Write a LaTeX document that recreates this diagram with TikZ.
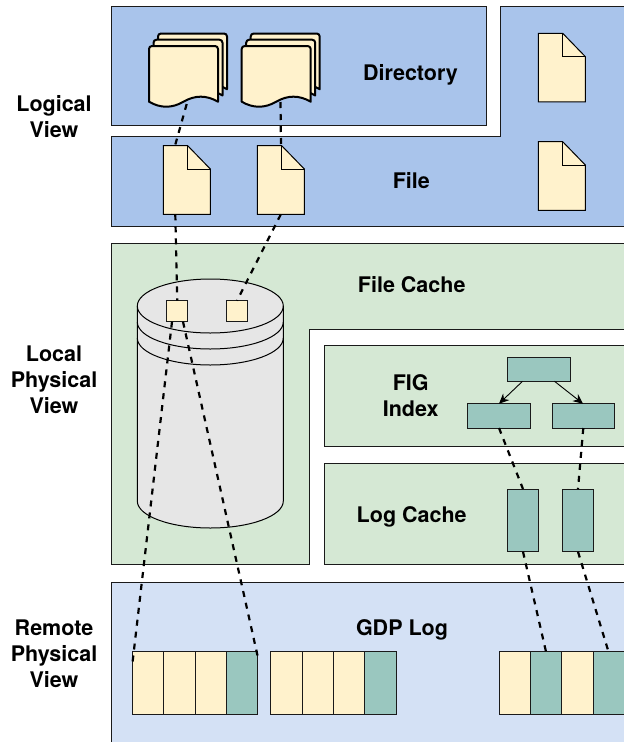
\documentclass[tikz,border=0pt]{standalone}
\usepackage{fontspec}
\setmainfont{TeX Gyre Heros}
\usetikzlibrary{arrows.meta}
\definecolor{pblue}{HTML}{A9C4EB}
\definecolor{pgreen}{HTML}{D5E8D4}
\definecolor{plight}{HTML}{D4E1F5}
\definecolor{pyellow}{HTML}{FFF2CC}
\definecolor{pteal}{HTML}{9AC7BF}
\definecolor{pgray}{HTML}{E6E6E6}
\definecolor{pline}{HTML}{1A1A1A}
\tikzset{
  x=1pt,y=-1pt,
  panel/.style={draw=pline,line width=0.9pt},
  box/.style={rectangle,draw=pline,line width=1pt,inner sep=0pt,outer sep=0pt,anchor=north west},
  cellY/.style={box,fill=pyellow,minimum width=31.4pt,minimum height=62.3pt},
  cellT/.style={box,fill=pteal,minimum width=31.4pt,minimum height=62.3pt},
  idx/.style={box,fill=pteal,minimum width=62.8pt,minimum height=24.3pt},
  seg/.style={box,fill=pteal,minimum width=31.4pt,minimum height=62.7pt},
  sq/.style={box,fill=pyellow,minimum width=21pt,minimum height=21pt},
  lbl/.style={font=\bfseries\fontsize{21.5}{26}\selectfont,align=center,inner sep=0pt},
  lblb/.style={lbl,anchor=base},
  link/.style={draw=black,line width=2.2pt,dash pattern=on 6pt off 6pt},
  tree/.style={draw=black,line width=0.9pt,-{Stealth[length=10pt,width=9pt]}},
}
\newcommand{\fileicon}[3]{% x, y, name
  \coordinate (#3) at (#1,#2);
  \draw[fill=pyellow,line width=1pt,line join=miter] (#1,#2) -- ++(24.4,0) -- ++(22.6,23.3) -- ++(0,45.3) -- ++(-47,0) -- cycle;
  \draw[line width=1pt] (#1+24.4,#2) -- ++(0,23.3) -- ++(22.6,0);
}
\newcommand{\sheet}[2]{% x, y of top left
  \draw[fill=pyellow,line width=2pt,line join=round]
    (#1,#2+55.7) .. controls (#1+11.5,#2+62.4) and (#1+23,#2+62.4) .. (#1+34.5,#2+55.7)
    .. controls (#1+46,#2+49) and (#1+57.5,#2+49) .. (#1+69,#2+55.7)
    -- (#1+69,#2+3) arc[start angle=0,end angle=90,radius=3pt] -- (#1+3,#2)
    arc[start angle=90,end angle=180,radius=3pt] -- cycle;
}
\newcommand{\stackdoc}[3]{% x, y of front sheet, name
  \sheet{#1+9}{#2-12.5}
  \sheet{#1+4.5}{#2-6.3}
  \sheet{#1}{#2}
  \coordinate (#3) at (#1,#2);
}
\begin{document}
\begin{tikzpicture}
\useasboundingbox (0,0) rectangle (624,742);
\fill[white] (0,0) rectangle (624,742);
\clip (0,0) rectangle (624,742);

% logical view panels
\draw[panel,fill=pblue] (111,6.7) rectangle (486.8,125);
\draw[panel,fill=pblue] (111,136.7) -- (500.3,136.7) -- (500.3,6.7) -- (640,6.7) -- (640,226) -- (111,226) -- cycle;

% local physical view panels
\draw[panel,fill=pgreen] (111,243) -- (640,243) -- (640,329) -- (309.7,329) -- (309.7,564) -- (111,564) -- cycle;
\draw[panel,fill=pgreen] (324.5,345) rectangle (640,446);
\draw[panel,fill=pgreen] (324.5,463) rectangle (640,564);

% remote panel
\draw[panel,fill=plight] (111,582) rectangle (640,760);

% labels
\node[lbl] (lv) at (54,116.5) {Logical\\View};
\node[lbl] (lp) at (54,379.8) {Local\\Physical\\View};
\node[lbl] (rp) at (54,654) {Remote\\Physical\\View};
\node[lblb] (dirl) at (410.5,80.3) {Directory};
\node[lblb] (filel) at (411.3,188.8) {File};
\node[lblb] (fcl) at (411.7,292.7) {File Cache};
\node[lbl] (figl) at (410.7,395.8) {FIG\\Index};
\node[lblb] (lcl) at (411.7,522.3) {Log Cache};
\node[lblb] (gdpl) at (402,635) {GDP Log};

% directory documents
\stackdoc{149}{46}{doca}
\stackdoc{241.7}{46}{docb}

% files
\fileicon{163.3}{145.7}{filea}
\fileicon{257.3}{145.7}{fileb}
\fileicon{538.3}{33.3}{filec}
\fileicon{538.3}{141.7}{filed}

% cylinder
\draw[fill=pgray,line width=1pt] (137.3,501) arc[start angle=180,end angle=360,x radius=73pt,y radius=27pt]
  -- (283.3,306) arc[start angle=0,end angle=180,x radius=73pt,y radius=27pt] -- cycle;
\draw[line width=1pt] (137.3,306) arc[start angle=180,end angle=360,x radius=73pt,y radius=27pt];
\draw[line width=1pt] (137.3,322) arc[start angle=180,end angle=360,x radius=73pt,y radius=27pt];
\draw[line width=1pt] (137.3,338) arc[start angle=180,end angle=360,x radius=73pt,y radius=27pt];
\node[sq] (sqa) at (166.7,300.7) {};
\node[sq] (sqb) at (226.2,300.7) {};

% FIG index
\node[idx] (root) at (507.3,357) {};
\node[idx] (idxa) at (467.4,403.7) {};
\node[idx] (idxb) at (552,403.7) {};
\coordinate (ra) at (522.5,381.3);
\coordinate (rb) at (554.5,381.3);
\coordinate (ia) at (499,403.7);
\coordinate (ib) at (583,403.7);
\draw[tree] (ra) -- (ia);
\draw[tree] (rb) -- (ib);

% log cache
\node[seg] (sega) at (507.3,489) {};
\node[seg] (segb) at (562.4,489) {};

% GDP log
\node[cellY] (a1) at (132.3,651.7) {};
\node[cellY] (a2) at (163.7,651.7) {};
\node[cellY] (a3) at (195.1,651.7) {};
\node[cellT] (a4) at (226.5,651.7) {};
\node[cellY] (b1) at (270.7,651.7) {};
\node[cellY] (b2) at (302.1,651.7) {};
\node[cellY] (b3) at (333.5,651.7) {};
\node[cellT] (b4) at (364.9,651.7) {};
\node[cellY] (c1) at (499,651.7) {};
\node[cellT] (c2) at (530.4,651.7) {};
\node[cellY] (c3) at (561.8,651.7) {};
\node[cellT] (c4) at (593.2,651.7) {};

% connector end points
\coordinate (da) at (186.7,104);
\coordinate (fat) at (175,145.7);
\coordinate (dbb) at (280.5,102);
\coordinate (fbt) at (281,145.7);
\coordinate (fab) at (175.3,214.4);
\coordinate (fbb) at (280.8,214.4);
\coordinate (sqat) at (177.2,300.7);
\coordinate (sqbt) at (237,300.7);
\coordinate (sqal) at (172,321.7);
\coordinate (sqar) at (183,321.7);
\coordinate (a1e) at (132,667);
\coordinate (a4e) at (258.5,660);
\coordinate (iab) at (499,428);
\coordinate (ibb) at (583.3,428);
\coordinate (sat) at (523,489);
\coordinate (sbt) at (578,489);
\coordinate (sab) at (523,551.7);
\coordinate (sbb) at (578,551.7);
\coordinate (c2t) at (546,651.7);
\coordinate (c4t) at (608.5,651.7);

% dashed connectors
\draw[link] (da) -- (fat);
\draw[link] (dbb) -- (fbt);
\draw[link] (fab) -- (sqat);
\draw[link] (fbb) -- (sqbt);
\draw[link] (sqal) -- (a1e);
\draw[link] (sqar) -- (a4e);
\draw[link] (iab) -- (sat);
\draw[link] (ibb) -- (sbt);
\draw[link] (sab) -- (c2t);
\draw[link] (sbb) -- (c4t);
\end{tikzpicture}
\end{document}
